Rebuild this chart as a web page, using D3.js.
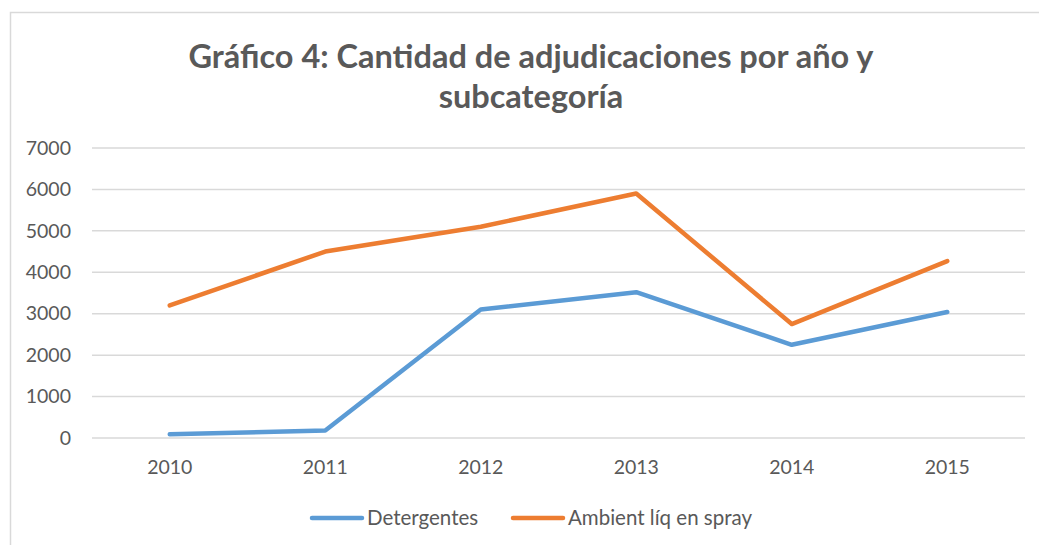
<!DOCTYPE html>
<html>
<head>
<meta charset="utf-8">
<script src="https://cdn.jsdelivr.net/npm/d3@7"></script>
<style>
  body { margin: 0; background: #fff; }
  text { font-family: Lato, "Open Sans", sans-serif; fill: #595959; }
</style>
</head>
<body>
<svg id="chart" width="1039" height="545"></svg>
<script>
(function(){
    'use strict';

    // data
    const years = ['2010', '2011', '2012', '2013', '2014', '2015'];
    const detergentes = [90, 180, 3100, 3520, 2250, 3040];
    const ambient = [3200, 4500, 5100, 5900, 2750, 4270];
    const yTicks = [0, 1000, 2000, 3000, 4000, 5000, 6000, 7000];
    const seriesNames = ['Detergentes', 'Ambient líq en spray'];
    const seriesColors = ['#5B9BD5', '#ED7D31'];
    const titleLines = ['Gráfico 4: Cantidad de adjudicaciones por año y', 'subcategoría'];

    const svg = d3.select('#chart');

    // outer chart border (runs off the right and bottom)
    svg.append('rect')
        .attr('x', 10.5).attr('y', 12.5)
        .attr('width', 1100).attr('height', 600)
        .attr('fill', 'none')
        .attr('stroke', '#D9D9D9')
        .attr('stroke-width', 1.5);

    // title
    svg.selectAll('text.title')
        .data(titleLines)
        .join('text')
        .attr('class', 'title')
        .attr('x', 531)
        .attr('y', (d, i) => 68 + i * 40)
        .attr('text-anchor', 'middle')
        .style('font-size', '32.5px')
        .style('font-weight', 'bold')
        .text(d => d);

    const x = d3.scaleBand().domain(years).range([92, 1025]);
    const y = d3.scaleLinear().domain([0, 7000]).range([438, 148]);

    // gridlines
    svg.append('g')
        .selectAll('line')
        .data(yTicks)
        .join('line')
        .attr('x1', 92).attr('x2', 1025)
        .attr('y1', d => y(d)).attr('y2', d => y(d))
        .attr('stroke', '#D9D9D9')
        .attr('stroke-width', 1.5);

    // y axis labels
    const yAxis = svg.append('g')
        .attr('transform', 'translate(71,0)')
        .call(d3.axisLeft(y).tickValues(yTicks).tickFormat(d3.format('d')).tickSize(0).tickPadding(0));
    yAxis.select('.domain').remove();
    yAxis.selectAll('text')
        .style('font-size', '19.5px')
        .attr('fill', null);

    // x axis labels
    const xAxis = svg.append('g')
        .attr('transform', 'translate(0,438)')
        .call(d3.axisBottom(x).tickSize(0).tickPadding(22));
    xAxis.select('.domain').remove();
    xAxis.selectAll('text')
        .style('font-size', '19.5px')
        .attr('fill', null);

    // lines
    const line = d3.line()
        .x((d, i) => x(years[i]) + x.bandwidth() / 2)
        .y(d => y(d));

    svg.selectAll('path.series')
        .data([detergentes, ambient])
        .join('path')
        .attr('class', 'series')
        .attr('d', line)
        .attr('fill', 'none')
        .attr('stroke', (d, i) => seriesColors[i])
        .attr('stroke-width', 4.5)
        .attr('stroke-linecap', 'round')
        .attr('stroke-linejoin', 'round');

    // legend
    const legendX = [312, 513];
    const legend = svg.selectAll('g.legend')
        .data(seriesNames)
        .join('g')
        .attr('class', 'legend')
        .attr('transform', (d, i) => `translate(${legendX[i]},518)`);

    legend.append('line')
        .attr('x1', 0).attr('x2', 50)
        .attr('stroke', (d, i) => seriesColors[i])
        .attr('stroke-width', 4.5)
        .attr('stroke-linecap', 'round');

    legend.append('text')
        .attr('x', 55)
        .attr('y', 7)
        .style('font-size', '20.5px')
        .text(d => d);
})();
</script>
</body>
</html>
